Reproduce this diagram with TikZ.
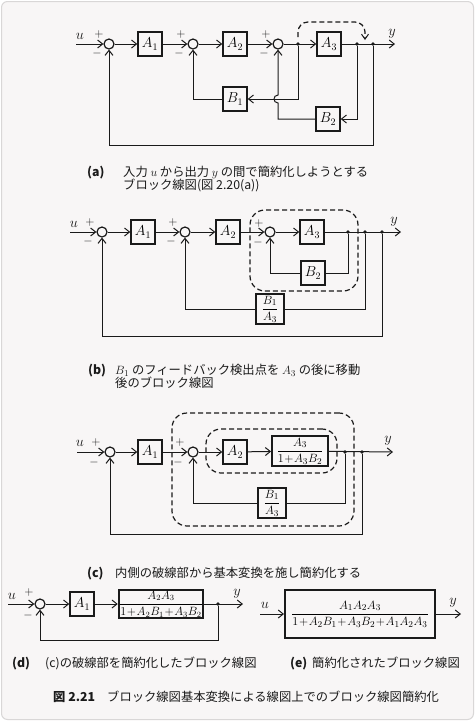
\documentclass[tikz,border=0pt]{standalone}
\usepackage{amsmath}
\usepackage{fontspec}
\newfontfamily\jp{Noto Sans CJK JP}
\usetikzlibrary{arrows.meta,calc,fit,positioning}
\definecolor{paper}{HTML}{F8F6F6}
\definecolor{edge}{HTML}{D9D7D7}
\definecolor{ink}{HTML}{1A1A1A}
\newcommand{\tightops}{\medmuskip=1mu\relax}

\begin{document}
\begin{tikzpicture}[
  x=1pt, y=1pt,
  sum/.style={circle, draw=ink, line width=1.2pt, minimum size=10pt, inner sep=0pt},
  blk/.style={draw=ink, line width=1.4pt, minimum width=24pt, minimum height=24pt,
              inner sep=1pt, font=\fontsize{14}{16}\selectfont},
  fblk/.style={blk, line width=1.8pt, inner sep=1.5pt, font=\fontsize{12.5}{14}\selectfont\tightops},
  tap/.style={circle, fill=ink, inner sep=0pt, minimum size=3.8pt},
  wire/.style={draw=ink, line width=1pt},
  sig/.style={wire, -{Straight Barb[length=5pt,width=8pt,line width=1pt]}},
  sgn/.style={font=\fontsize{12.5}{12}\selectfont, inner sep=0pt, text=ink},
  var/.style={font=\fontsize{13.5}{12}\selectfont, inner sep=0pt, text=ink},
  grp/.style={draw=ink, line width=1.2pt, dash pattern=on 5pt off 3pt,
              rounded corners=15pt, inner sep=0pt},
  move/.style={draw=ink, line width=1.2pt, dash pattern=on 5pt off 3pt, rounded corners=10pt,
               -{Straight Barb[length=5pt,width=7pt,line width=1pt]}},
  subcap/.style={font=\jp\fontsize{12.3}{13}\selectfont, align=left, anchor=north west,
                 inner sep=0pt, text=ink},
  tag/.style={font=\jp\bfseries\fontsize{12.3}{13}\selectfont, anchor=north west,
              inner sep=0pt, text=ink},
]
  \useasboundingbox (0,0) rectangle (475,-721);
  \fill[white] (0,0) rectangle (475,-721);
  \draw[fill=paper, draw=edge, line width=1pt, rounded corners=6pt] (1.5,-1.5) rectangle (473.5,-719.5);

  % (a) ---------------------------------------------------------------------
  \coordinate (ina) at (76,-44);
  \node[var] (ua) at (80,-36) {$u$};
  \node[sum] (sa1) at (109,-44) {};
  \node[sgn] (sa1p) at ($(sa1)+(-10,10)$) {$+$};
  \node[sgn] (sa1m) at ($(sa1)+(-12,-9)$) {$-$};
  \node[blk] (a1a) at (150,-44) {$A_1$};
  \node[sum] (sa2) at (193,-44) {};
  \node[sgn] (sa2p) at ($(sa2)+(-12,10)$) {$+$};
  \node[sgn] (sa2m) at ($(sa2)+(-14,-9)$) {$-$};
  \node[blk] (a2a) at (235,-44) {$A_2$};
  \node[sum] (sa3) at (278,-44) {};
  \node[sgn] (sa3p) at ($(sa3)+(-12,10)$) {$+$};
  \node[sgn] (sa3m) at ($(sa3)+(-14,-9)$) {$-$};
  \node[tap] (qa1) at (298,-44) {};
  \node[blk] (a3a) at (329,-44) {$A_3$};
  \node[tap] (qa2) at (357,-44) {};
  \node[tap] (qa3) at (373,-44) {};
  \coordinate (outa) at (395,-44);
  \node[var] (ya) at (392,-34) {$y$};
  \node[blk] (b1a) at (235,-99) {$B_1$};
  \node[blk] (b2a) at (328,-119) {$B_2$};
  \coordinate (hopa) at (sa3 |- b1a);
  \draw[sig] (ina) -- (sa1);
  \draw[sig] (sa1) -- (a1a);
  \draw[sig] (a1a) -- (sa2);
  \draw[sig] (sa2) -- (a2a);
  \draw[sig] (a2a) -- (sa3);
  \draw[sig] (sa3) -- (a3a);
  \draw[sig] (a3a) -- (outa);
  \draw[sig] (qa1) |- (b1a);
  \draw[sig] (b1a) -| (sa2);
  \draw[sig] (qa2) |- (b2a);
  \draw[sig] (b2a) -| ($(hopa)+(0,-4)$) .. controls +(-5.3,0) and +(-5.3,0) .. ($(hopa)+(0,4)$) -- (sa3);
  \draw[sig] (qa3) -- ++(0,-101) -| (sa1);
  \draw[move] ($(qa1)+(0,7)$) -- ($(qa1)+(0,22)$) -| ($(qa2)!0.5!(qa3)+(0,4)$);
  \node[tag] (taga) at (87,-166) {(a)};
  \node[subcap] (capa) at (123,-166) {入力 $u$ から出力 $y$ の間で簡約化しようとする\\ブロック線図(図 2.20(a))};

  % (b) ---------------------------------------------------------------------
  \coordinate (inb) at (70,-232);
  \node[var] (ub) at (74,-224) {$u$};
  \node[sum] (sb1) at (102,-232) {};
  \node[sgn] (sb1p) at ($(sb1)+(-12,10)$) {$+$};
  \node[sgn] (sb1m) at ($(sb1)+(-14,-9)$) {$-$};
  \node[blk] (a1b) at (143,-232) {$A_1$};
  \node[sum] (sb2) at (185,-232) {};
  \node[sgn] (sb2p) at ($(sb2)+(-12,10)$) {$+$};
  \node[sgn] (sb2m) at ($(sb2)+(-14,-9)$) {$-$};
  \node[blk] (a2b) at (228,-232) {$A_2$};
  \node[sum] (sb3) at (270,-232) {};
  \node[sgn] (sb3p) at ($(sb3)+(-11,9)$) {$+$};
  \node[sgn] (sb3m) at ($(sb3)+(-12,-10)$) {$-$};
  \node[blk] (a3b) at (312,-232) {$A_3$};
  \node[tap] (qb1) at (348,-232) {};
  \node[tap] (qb2) at (365,-232) {};
  \node[tap] (qb3) at (382,-232) {};
  \coordinate (outb) at (401,-232);
  \node[var] (yb) at (394,-222) {$y$};
  \node[blk] (b2b) at (313,-273) {$B_2$};
  \node[fblk, minimum width=28pt, minimum height=28pt] (b1b) at (270,-309) {$\dfrac{B_1}{A_3}$};
  \node[grp, fit={(250,-210) (358,-291)}] (grpb) {};
  \draw[sig] (inb) -- (sb1);
  \draw[sig] (sb1) -- (a1b);
  \draw[sig] (a1b) -- (sb2);
  \draw[sig] (sb2) -- (a2b);
  \draw[sig] (a2b) -- (sb3);
  \draw[sig] (sb3) -- (a3b);
  \draw[sig] (a3b) -- (outb);
  \draw[wire] (qb1) |- (b2b);
  \draw[sig] (b2b) -| (sb3);
  \draw[wire] (qb2) |- (b1b);
  \draw[sig] (b1b) -| (sb2);
  \draw[sig] (qb3) -- ++(0,-104) -| (sb1);
  \node[tag] (tagb) at (88,-364) {(b)};
  \node[subcap] (capb) at (115,-364) {$B_1$ のフィードバック検出点を $A_3$ の後に移動\\後のブロック線図};

  % (c) ---------------------------------------------------------------------
  \coordinate (inc) at (77,-452);
  \node[var] (uc) at (80,-443) {$u$};
  \node[sum] (sc1) at (110,-452) {};
  \node[sgn] (sc1p) at ($(sc1)+(-14,10)$) {$+$};
  \node[sgn] (sc1m) at ($(sc1)+(-16,-10)$) {$-$};
  \node[blk] (a1c) at (150,-452) {$A_1$};
  \node[sum] (sc2) at (193,-452) {};
  \node[sgn] (sc2p) at ($(sc2)+(-13,10)$) {$+$};
  \node[sgn] (sc2m) at ($(sc2)+(-15,-10)$) {$-$};
  \node[blk] (a2c) at (235,-452) {$A_2$};
  \node[fblk, minimum width=56pt, minimum height=28pt] (g3c) at (300,-451) {$\dfrac{A_3}{1+A_3B_2}$};
  \node[tap] (qc1) at (345,-452) {};
  \node[tap] (qc2) at (362,-452) {};
  \coordinate (outc) at (393,-452);
  \node[var] (yc) at (388,-441) {$y$};
  \node[fblk, minimum width=28pt, minimum height=29pt] (b1c) at (272,-503) {$\dfrac{B_1}{A_3}$};
  \node[grp, fit={(206,-429) (337,-473)}] (grpc1) {};
  \node[grp, fit={(172,-413) (354,-526)}] (grpc2) {};
  \draw[sig] (inc) -- (sc1);
  \draw[sig] (sc1) -- (a1c);
  \draw[sig] (a1c) -- (sc2);
  \draw[sig] (sc2) -- (a2c);
  \draw[sig] (a2c) -- (g3c);
  \draw[sig] (g3c) -- (outc);
  \draw[wire] (qc1) |- (b1c);
  \draw[sig] (b1c) -| (sc2);
  \draw[sig] (qc2) -- ++(0,-82) -| (sc1);
  \node[tag] (tagc) at (87,-567) {(c)};
  \node[subcap] (capc) at (115,-567) {内側の破線部から基本変換を施し簡約化する};

  % (d) ---------------------------------------------------------------------
  \coordinate (ind) at (8,-604);
  \node[var] (ud) at (12,-596) {$u$};
  \node[sum] (sd1) at (40,-604) {};
  \node[sgn] (sd1p) at ($(sd1)+(-11,12)$) {$+$};
  \node[sgn] (sd1m) at ($(sd1)+(-12,-11)$) {$-$};
  \node[blk] (a1d) at (82,-604) {$A_1$};
  \node[fblk, minimum width=84pt, minimum height=27pt, inner sep=0.5pt,
        font=\fontsize{11.8}{13}\selectfont\tightops] (g2d) at (161,-604) {$\dfrac{A_2A_3}{1+A_2B_1+A_3B_2}$};
  \node[tap] (qd1) at (218,-604) {};
  \coordinate (outd) at (243,-604);
  \node[var] (yd) at (237,-594) {$y$};
  \draw[sig] (ind) -- (sd1);
  \draw[sig] (sd1) -- (a1d);
  \draw[sig] (a1d) -- (g2d);
  \draw[sig] (g2d) -- (outd);
  \draw[sig] (qd1) -- ++(0,-36) -| (sd1);
  \node[tag] (tagd) at (12,-657) {(d)};
  \node[subcap] (capd) at (45,-657) {(c)の破線部を簡約化したブロック線図};

  % (e) ---------------------------------------------------------------------
  \coordinate (ine) at (260,-614);
  \node[var] (ue) at (265,-605) {$u$};
  \node[fblk, minimum width=150pt, minimum height=48pt, line width=2pt] (ge) at (360,-614)
    {$\dfrac{A_1A_2A_3}{1+A_2B_1+A_3B_2+A_1A_2A_3}$};
  \coordinate (oute) at (461,-614);
  \node[var] (ye) at (453,-603) {$y$};
  \draw[sig] (ine) -- (ge);
  \draw[sig] (ge) -- (oute);
  \node[tag] (tage) at (290,-657) {(e)};
  \node[subcap] (cape) at (312,-657) {簡約化されたブロック線図};

  % figure caption ----------------------------------------------------------
  \node[tag] (tagfig) at (53,-691) {図 2.21};
  \node[subcap] (capfig) at (107,-691) {ブロック線図基本変換による線図上でのブロック線図簡約化};
\end{tikzpicture}
\end{document}
